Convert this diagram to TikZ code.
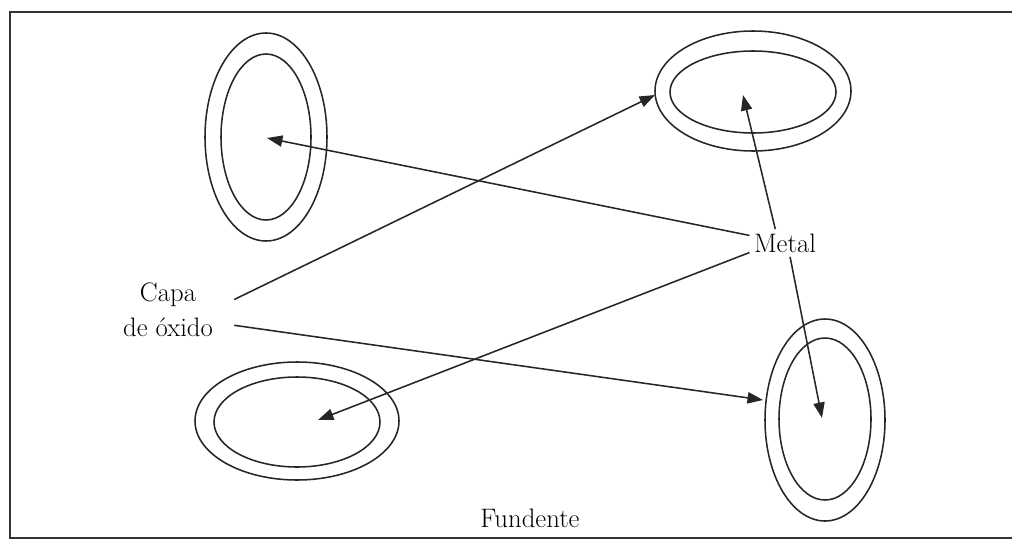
\documentclass[tikz,border=0pt]{standalone}
\usetikzlibrary{arrows.meta}
\begin{document}
\begin{tikzpicture}[
    x=0.025cm, y=-0.025cm,
    font=\fontsize{19}{25}\selectfont,
    ring/.style={draw=black!85,line width=1.1pt},
    lbl/.style={inner xsep=15pt,inner ysep=3pt,align=center},
    arr/.style={-{Triangle[length=11pt,width=8pt]},draw=black!85,line width=1.1pt}
]
    \useasboundingbox (0,0) rectangle (1012,540);
    \draw[black!80,line width=1pt] (1012,12) -- (10,12) -- (10,538) -- (1012,538);

    % oxide rings
    \coordinate (tl) at (266,137);
    \coordinate (tr) at (753,91);
    \coordinate (bl) at (297,421);
    \coordinate (br) at (825,420);
    \draw[ring] (tl) ellipse (61 and 104);
    \draw[ring] (tl) ellipse (45 and 83);
    \draw[ring] (tr) ellipse (98 and 60);
    \draw[ring] (753,92) ellipse (83 and 41);
    \draw[ring] (bl) ellipse (102 and 59);
    \draw[ring] (297,422) ellipse (83 and 45);
    \draw[ring] (br) ellipse (60 and 101);
    \draw[ring] (825,419) ellipse (46 and 81);

    % arrow tips
    \coordinate (tlp) at (267,138);
    \coordinate (trp) at (743,95);
    \coordinate (blp) at (318,420);
    \coordinate (brp) at (822,418);
    \coordinate (brs) at (763,400);

    \node[lbl] (capa) at (168,310) {Capa\\de óxido};
    \node[inner sep=3pt] (metal) at (785,243) {Metal};
    \node (fund) at (530,518) {Fundente};

    \draw[arr] (metal.168) -- (tlp);
    \draw[arr] (metal.125) -- (trp);
    \draw[arr] (metal.195) -- (blp);
    \draw[arr] (metal.-70) -- (brp);
    \draw[arr] (capa.9) -- (trp -| 655,0);
    \draw[arr] (capa.-13) -- (brs);
\end{tikzpicture}
\end{document}
